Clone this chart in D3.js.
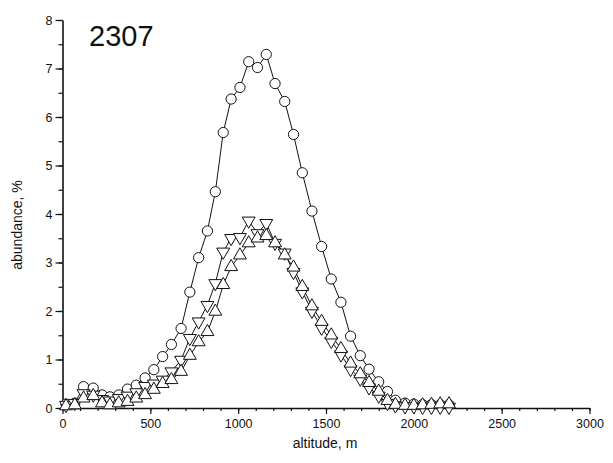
<!DOCTYPE html>
<html>
<head>
<meta charset="utf-8">
<script src="https://cdnjs.cloudflare.com/ajax/libs/d3/7.8.5/d3.min.js"></script>
<style>
  body { margin: 0; background: #fff; }
  text { font-family: 'Liberation Sans', Arial, sans-serif; fill: #111; }
</style>
</head>
<body>
<div id="chart"></div>
<script>
// altitudes (m) of the samples
const altitude = [20, 70, 120, 175, 225, 270, 320, 370, 420, 470, 520, 570, 620, 675, 725, 775,
  825, 870, 915, 960, 1010, 1060, 1110, 1160, 1210, 1265, 1315, 1365, 1420, 1475, 1530, 1585,
  1640, 1695, 1745, 1800, 1850, 1895, 1950, 2000, 2050, 2100, 2150, 2200]

// abundance, % (circles)
const circles = [0.08, 0.1, 0.44, 0.41, 0.27, 0.23, 0.27, 0.39, 0.47, 0.62, 0.79, 1.06, 1.31, 1.64, 2.39, 3.1,
  3.65, 4.46, 5.68, 6.37, 6.61, 7.14, 7.02, 7.29, 6.69, 6.32, 5.64, 4.85, 4.06, 3.33, 2.66, 2.18,
  1.48, 1.08, 0.8, 0.54, 0.34, 0.16, 0.1, 0.08, 0.07, 0.07, 0.07, 0.07]

// abundance, % (down triangles)
const downTri = [0.06, 0.1, 0.3, 0.27, 0.18, 0.15, 0.2, 0.25, 0.32, 0.45, 0.5, 0.58, 0.75, 0.99, 1.44, 1.78,
  2.12, 2.57, 3.22, 3.5, 3.52, 3.86, 3.6, 3.81, 3.4, 3.2, 2.8, 2.4, 2.0, 1.65, 1.38, 1.1,
  0.8, 0.6, 0.42, 0.25, 0.1, 0.05, 0.03, 0.03, 0.02, 0.02, 0.02, 0.02]

// abundance, % (up triangles)
const upTri = [0.04, 0.06, 0.2, 0.25, 0.1, 0.06, 0.1, 0.13, 0.2, 0.27, 0.38, 0.5, 0.58, 0.75, 1.08, 1.36,
  1.57, 1.99, 2.54, 2.91, 3.15, 3.4, 3.5, 3.55, 3.4, 3.15, 2.9, 2.5, 2.1, 1.78, 1.5, 1.22,
  0.92, 0.7, 0.52, 0.34, 0.15, 0.07, 0.05, 0.05, 0.06, 0.07, 0.08, 0.08]

const xTicks = [0, 500, 1000, 1500, 2000, 2500, 3000]
const yTicks = [0, 1, 2, 3, 4, 5, 6, 7, 8]
const title = '2307'

// canvas
const width = 613,
  height = 463

let svg = d3.select('#chart')
  .append('svg')
  .attr('width', width)
  .attr('height', height)

const x = d3.scaleLinear().domain([0, 3000]).range([62.5, 589.5])
const y = d3.scaleLinear().domain([0, 8]).range([408, 20])

// axes
const xMinor = svg.append('g')
  .attr('transform', `translate(0, ${y(0)})`)
  .call(d3.axisBottom(x).tickValues(d3.range(0, 3001, 100)).tickSize(3).tickFormat(''))
xMinor.select('.domain').remove()

const xAxis = svg.append('g')
  .attr('transform', `translate(0, ${y(0)})`)
  .call(d3.axisBottom(x).tickValues(xTicks).tickSize(6).tickSizeOuter(0).tickPadding(5).tickFormat(d3.format('d')))

const yMinor = svg.append('g')
  .attr('transform', `translate(${x(0)}, 0)`)
  .call(d3.axisLeft(y).tickValues(d3.range(0, 8.01, 0.5)).tickSize(4).tickFormat(''))
yMinor.select('.domain').remove()

const yAxis = svg.append('g')
  .attr('transform', `translate(${x(0)}, 0)`)
  .call(d3.axisLeft(y).tickValues(yTicks).tickSize(7).tickSizeOuter(0).tickPadding(3))

svg.selectAll('.domain').attr('stroke', '#111').attr('stroke-width', 1.6)
svg.selectAll('.tick line').attr('stroke', '#111').attr('stroke-width', 1.2)
svg.selectAll('.tick text').style('font-size', '12.5px').attr('fill', '#111')

// labels
svg.append('text')
  .attr('x', 89)
  .attr('y', 46)
  .style('font-size', '29px')
  .text(title)

svg.append('text')
  .attr('x', 325)
  .attr('y', 448)
  .attr('text-anchor', 'middle')
  .style('font-size', '14px')
  .text('altitude, m')

svg.append('text')
  .attr('transform', 'translate(22, 225) rotate(-90)')
  .attr('text-anchor', 'middle')
  .style('font-size', '14px')
  .text('abundance, %')

// series
const series = [
  { values: circles, symbol: d3.symbolCircle, size: 82, rot: 0 },
  { values: downTri, symbol: d3.symbolTriangle, size: 72, rot: 180 },
  { values: upTri, symbol: d3.symbolTriangle, size: 72, rot: 0 }
]

const line = d3.line()
  .x(d => x(d[0]))
  .y(d => y(d[1]))

series.forEach(s => {
  const pts = altitude.map((a, i) => [a, s.values[i]])
  svg.append('path')
    .datum(pts)
    .attr('d', line)
    .attr('fill', 'none')
    .attr('stroke', '#111')
    .attr('stroke-width', 1)
})

series.forEach(s => {
  const pts = altitude.map((a, i) => [a, s.values[i]])
  svg.append('g')
    .selectAll('path')
    .data(pts)
    .enter()
    .append('path')
    .attr('d', d3.symbol().type(s.symbol).size(s.size))
    .attr('transform', d => `translate(${x(d[0])}, ${y(d[1])}) rotate(${s.rot})`)
    .attr('fill', '#fff')
    .attr('stroke', '#111')
    .attr('stroke-width', 1)
})
</script>
</body>
</html>
